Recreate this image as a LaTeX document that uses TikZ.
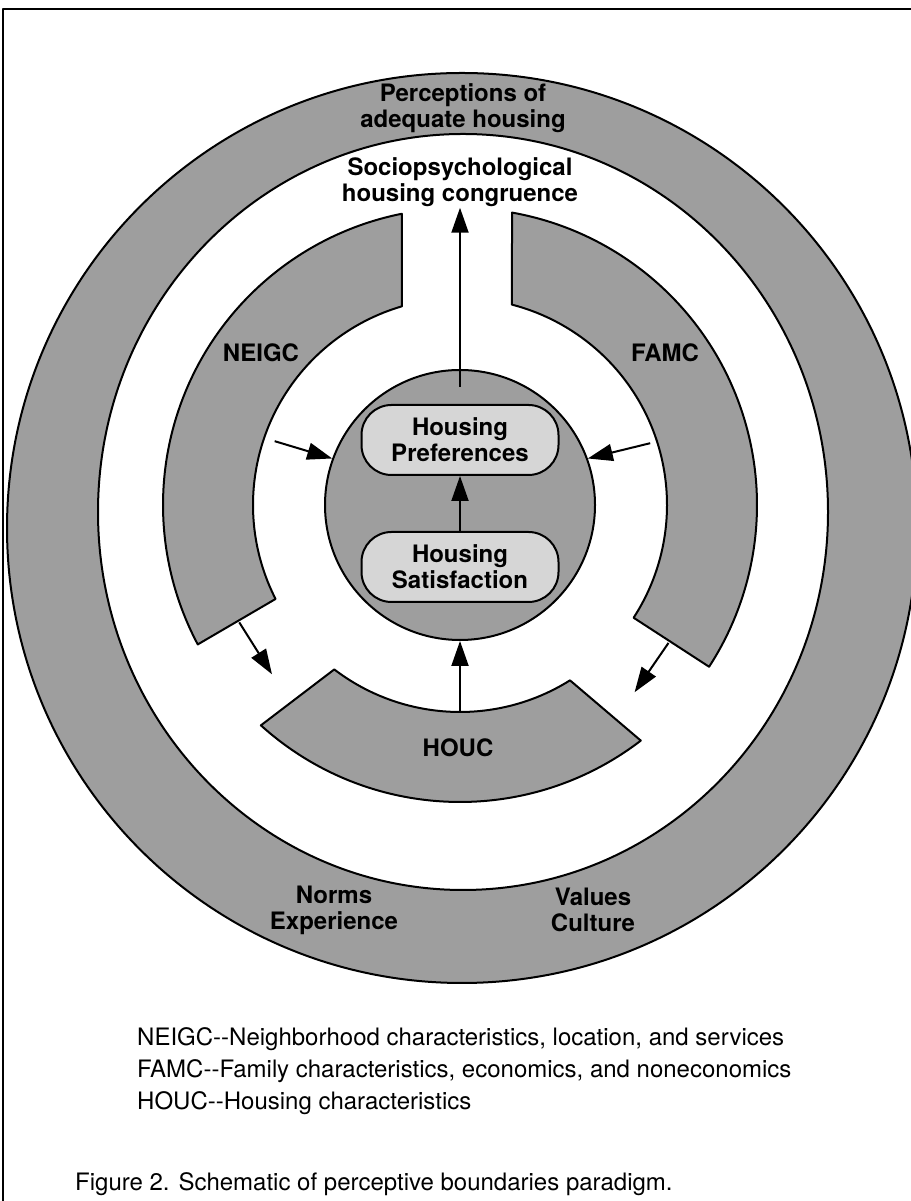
\documentclass[tikz,border=0pt]{standalone}
\usepackage{fontspec}
\setmainfont{TeX Gyre Heros}
\usetikzlibrary{arrows.meta,calc}

\tikzset{
  band/.style={fill=black!38,draw=black,line width=2pt},
  lbl/.style={font=\bfseries\fontsize{24}{26}\selectfont,align=center,inner sep=1pt},
  pill/.style={draw=black,line width=2pt,fill=black!16,rounded corners=30pt,
    minimum width=197pt,minimum height=70pt,align=center,
    font=\bfseries\fontsize{24}{26}\selectfont},
  arr/.style={->,line width=2pt},
}
\newcommand{\dd}{-\kern0pt-}

\begin{document}
\begin{tikzpicture}[x=1pt,y=1pt,>={Triangle[length=25pt,width=17pt]},line join=round]
\useasboundingbox (0,0) rectangle (910,1201);
% frame
\draw[line width=2pt] (3,-20) -- (3,1192) -- (940,1192);
% outer ring
\fill[black!38,even odd rule] (462,673) circle[radius=455] (463,689) ellipse[x radius=365,y radius=378];
\draw[line width=2pt] (462,673) circle[radius=455];
\draw[line width=2pt] (463,689) ellipse[x radius=365,y radius=378];
% middle ring, three pieces
\coordinate (C) at (460,696);
\begin{scope}[shift={(C)}]
  \draw[band] (101.3:297) arc[start angle=101.3,end angle=208,radius=297]
    -- (207:207) arc[start angle=207,end angle=106.3,radius=207] -- cycle;
  \draw[band] (79.9:297) arc[start angle=79.9,end angle=-33,radius=297]
    -- (-33:207) arc[start angle=-33,end angle=75.5,radius=207] -- cycle;
  \draw[band] (227.9:297) arc[start angle=227.9,end angle=307.5,radius=297]
    -- (302.1:207) arc[start angle=302.1,end angle=232.6,radius=207] -- cycle;
  \coordinate (houcin) at (270:207);
  \coordinate (ntail) at (161:196);
  \coordinate (ftail) at (18:200);
  \coordinate (nbot) at (208:250);
  \coordinate (hleft) at (222:253);
  \coordinate (fbot) at (-33.5:250);
  \coordinate (hright) at (-47:256);
\end{scope}
% hub
\node[circle,draw,line width=2pt,fill=black!38,minimum size=270pt,inner sep=0] (hub) at (C) {};
\node[pill] (pref) at (460,761) {Housing\\Preferences};
\node[pill] (sat) at (460,634) {Housing\\Satisfaction};
% labels
\node[lbl] (adeq) at (463,1093) {Perceptions of\\adequate housing};
\node[lbl] (congr) at (460,1019) {Sociopsychological\\housing congruence};
\node[lbl] (neigc) at (261,848) {NEIGC};
\node[lbl] (famc) at (665,848) {FAMC};
\node[lbl] (houc) at (458,453) {HOUC};
\node[lbl] (norms) at (334,291) {Norms\\Experience};
\node[lbl] (values) at (593,291) {Values\\Culture};
% arrows
\coordinate (hubtop) at ($(hub.north)+(0,-18)$);
\draw[arr] (hubtop) -- (congr.south);
\draw[arr] (sat) -- (pref);
\draw[arr] (houcin) -- (hub.south);
\draw[arr] (ntail) -- (hub.160);
\draw[arr] (ftail) -- (hub.20);
\draw[arr] (nbot) -- (hleft);
\draw[arr] (fbot) -- (hright);
% legend and caption
\node[anchor=north west,align=left,inner sep=0,font=\fontsize{24}{32}\selectfont] (legend) at (137,174)
  {NEIGC\dd Neighborhood characteristics, location, and services\\
   FAMC\dd Family characteristics, economics, and noneconomics\\
   HOUC\dd Housing characteristics};
\node[anchor=north west,inner sep=0,font=\fontsize{24}{28}\selectfont] (caption) at (75,29)
  {Figure 2. Schematic of perceptive boundaries paradigm.};
\end{tikzpicture}
\end{document}
